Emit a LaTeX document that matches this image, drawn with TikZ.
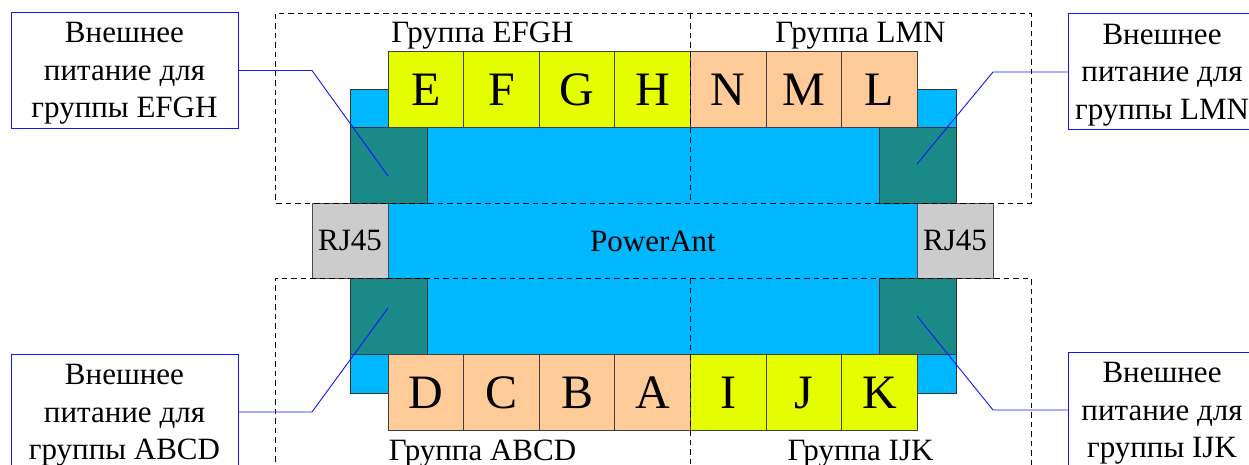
\documentclass[tikz,border=0pt]{standalone}
\usepackage{fontspec}
\setmainfont{Liberation Serif}
\definecolor{antblue}{RGB}{0,184,255}
\definecolor{antteal}{RGB}{26,138,136}
\definecolor{antyellow}{RGB}{230,255,0}
\definecolor{antpeach}{RGB}{255,204,153}
\definecolor{antgrey}{RGB}{204,204,204}
\definecolor{callblue}{RGB}{20,20,255}
\begin{document}
\begin{tikzpicture}[x=1pt,y=-1pt,
  txt/.style={font=\fontsize{31}{37.5}\selectfont},
  cell/.style={draw=black!75, line width=0.8pt, minimum width=75.6pt, minimum height=76pt,
    inner sep=0pt, font=\fontsize{48}{58}\selectfont, text height=31.5pt, text depth=0pt},
  yel/.style={cell, fill=antyellow},
  pch/.style={cell, fill=antpeach},
  tealbox/.style={draw=black!80, line width=0.8pt, fill=antteal, minimum width=77pt,
    minimum height=76.5pt, inner sep=0pt},
  rjbox/.style={draw=black!70, line width=0.8pt, fill=antgrey, minimum width=76pt,
    minimum height=75pt, inner sep=0pt, txt, text height=20.3pt, text depth=0pt},
  grp/.style={draw=black, line width=1pt, dash pattern=on 5.5pt off 4pt},
  callbox/.style={draw=callblue, line width=1pt, fill=white, minimum height=116pt, inner sep=0pt},
  calltxt/.style={txt, align=center, anchor=north, inner sep=0pt},
  leader/.style={draw=callblue, line width=0.9pt}
]
\clip (0,0) rectangle (1249,465);
\fill[white] (0,0) rectangle (1249,465);

% main body
\node[draw=black!80, line width=0.8pt, fill=antblue, minimum width=606pt, minimum height=304pt,
  inner sep=0pt, txt, text height=20.3pt, text depth=0pt] (body) at (653,241) {PowerAnt};

% RJ45 connectors
\node[rjbox] (rjl) at (350,240.5) {RJ45};
\node[rjbox] (rjr) at (955,240.5) {RJ45};

% power inputs
\node[tealbox] (ttl) at (388.5,165.25) {};
\node[tealbox] (ttr) at (917.5,165.25) {};
\node[tealbox] (tbl) at (388.5,316.5) {};
\node[tealbox] (tbr) at (917.5,316.5) {};

% top row of ports
\node[yel] (pE) at (425.8,89.7) {E};
\node[yel] (pF) at (501.4,89.7) {F};
\node[yel] (pG) at (577.0,89.7) {G};
\node[yel] (pH) at (652.6,89.7) {H};
\node[pch] (pN) at (728.2,89.7) {N};
\node[pch] (pM) at (803.8,89.7) {M};
\node[pch] (pL) at (879.4,89.7) {L};

% bottom row of ports
\node[pch] (pD) at (425.8,392.5) {D};
\node[pch] (pC) at (501.4,392.5) {C};
\node[pch] (pB) at (577.0,392.5) {B};
\node[pch] (pA) at (652.6,392.5) {A};
\node[yel] (pI) at (728.2,392.5) {I};
\node[yel] (pJ) at (803.8,392.5) {J};
\node[yel] (pK) at (879.4,392.5) {K};

% group frames
\draw[grp] (275,14) rectangle (1031,203);
\draw[grp] (690,14) -- (690,203);
\draw[grp] (275,490) -- (275,278) -- (1031,278) -- (1031,490);
\draw[grp] (690,278) -- (690,490);

% group labels
\node[txt, anchor=base, inner sep=0pt] (gEFGH) at (482.5,43) {Группа EFGH};
\node[txt, anchor=base, inner sep=0pt] (gLMN) at (860.5,43) {Группа LMN};
\node[txt, anchor=base, inner sep=0pt] (gABCD) at (482.5,460) {Группа ABCD};
\node[txt, anchor=base, inner sep=0pt] (gIJK) at (860.5,460) {Группа IJK};

% callouts
\node[callbox, minimum width=227pt] (c1) at (124.5,70.5) {};
\node[calltxt] (c1t) at ([yshift=-10.5pt]c1.north) {Внешнее\\питание для\\группы EFGH};
\node[callbox, minimum width=188pt] (c2) at (1162,72) {};
\node[calltxt] (c2t) at ([yshift=-10.5pt]c2.north) {Внешнее\\питание для\\группы LMN};
\node[callbox, minimum width=227pt] (c3) at (124.5,412) {};
\node[calltxt] (c3t) at ([yshift=-10.5pt]c3.north) {Внешнее\\питание для\\группы ABCD};
\node[callbox, minimum width=188pt] (c4) at (1162,410) {};
\node[calltxt] (c4t) at ([yshift=-10.5pt]c4.north) {Внешнее\\питание для\\группы IJK};

% leaders
\coordinate (b1) at (312,70.5);  \coordinate (e1) at (388,176);
\coordinate (b2) at (993,72);    \coordinate (e2) at (917,164);
\coordinate (b3) at (312,412);   \coordinate (e3) at (388,308);
\coordinate (b4) at (993,410);   \coordinate (e4) at (917,316);
\draw[leader] (c1.east) -- (b1) -- (e1);
\draw[leader] (c2.west) -- (b2) -- (e2);
\draw[leader] (c3.east) -- (b3) -- (e3);
\draw[leader] (c4.west) -- (b4) -- (e4);
\end{tikzpicture}
\end{document}
